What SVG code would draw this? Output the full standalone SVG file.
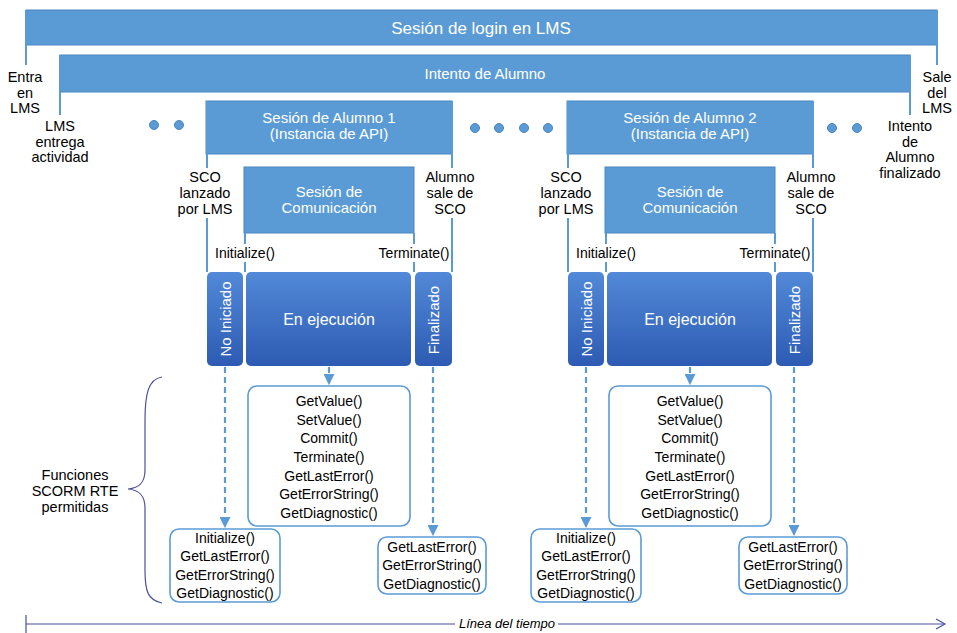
<svg xmlns="http://www.w3.org/2000/svg" width="957" height="633" viewBox="0 0 957 633">
  <style>
    .bar { fill: #5b9bd5; stroke: #4a86c2; stroke-width: 1; }
    .edge { stroke: #5b9bd5; stroke-width: 2; fill: none; }
    .state { fill: url(#stateGrad); }
    .fbox { fill: #ffffff; stroke: #5b9bd5; stroke-width: 1.6; }
    .dash { stroke: #5b9bd5; stroke-width: 2.2; stroke-dasharray: 6 4; fill: none; }
    .dot { fill: #5b9bd5; stroke: #4a86c2; stroke-width: 1; }
    text { font-family: "Liberation Sans", Arial, sans-serif; }
    .w { fill: #ffffff; font-size: 15px; text-anchor: middle; }
    .big { font-size: 16px; }
    .title { fill: #ffffff; font-size: 17px; text-anchor: middle; }
    .lbl { fill: #000000; font-size: 14.5px; text-anchor: middle; }
    .fn { fill: #000000; font-size: 14px; text-anchor: middle; }
    .axis { stroke: #4b4f9c; stroke-width: 1.2; fill: none; }
    .time { fill: #000000; font-size: 13px; font-style: italic; text-anchor: middle; }
  </style>
  <defs>
    <linearGradient id="stateGrad" x1="0" y1="0" x2="0" y2="1">
      <stop offset="0" stop-color="#5289d8"/>
      <stop offset="1" stop-color="#2d5bb3"/>
    </linearGradient>
    <marker id="arr" viewBox="0 0 10 10" refX="9" refY="5" markerWidth="5" markerHeight="5" orient="auto">
      <path d="M0,0 L10,5 L0,10 z" fill="#5b9bd5"/>
    </marker>
  </defs>

  <!-- LMS login session -->
  <g id="login">
    <rect class="bar" x="26" y="10" width="911" height="35"/>
    <line class="edge" x1="26" y1="10" x2="26" y2="65"/>
    <line class="edge" x1="937" y1="10" x2="937" y2="65"/>
    <text class="title" x="481" y="34">Sesión de login en LMS</text>
    <text class="lbl" x="25" y="82">Entra</text>
    <text class="lbl" x="25" y="97.5">en</text>
    <text class="lbl" x="25" y="113">LMS</text>
    <text class="lbl" x="937" y="82">Sale</text>
    <text class="lbl" x="937" y="97.5">del</text>
    <text class="lbl" x="937" y="113">LMS</text>
  </g>

  <!-- Learner attempt -->
  <g id="attempt">
    <rect class="bar" x="60" y="55" width="850" height="37"/>
    <line class="edge" x1="60" y1="55" x2="60" y2="115"/>
    <line class="edge" x1="910" y1="55" x2="910" y2="115"/>
    <text class="w" x="485" y="79">Intento de Alumno</text>
    <text class="lbl" x="60" y="131">LMS</text>
    <text class="lbl" x="60" y="146.5">entrega</text>
    <text class="lbl" x="60" y="162">actividad</text>
    <text class="lbl" x="910" y="131">Intento</text>
    <text class="lbl" x="910" y="146.5">de</text>
    <text class="lbl" x="910" y="162">Alumno</text>
    <text class="lbl" x="910" y="177.5">finalizado</text>
  </g>

  <!-- Continuation dots -->
  <g id="dots">
    <circle class="dot" cx="154" cy="125" r="4.5"/>
    <circle class="dot" cx="179" cy="125" r="4.5"/>
    <circle class="dot" cx="475" cy="128" r="4.5"/>
    <circle class="dot" cx="499" cy="128" r="4.5"/>
    <circle class="dot" cx="524" cy="128" r="4.5"/>
    <circle class="dot" cx="548" cy="128" r="4.5"/>
    <circle class="dot" cx="832" cy="128" r="4.5"/>
    <circle class="dot" cx="857" cy="128" r="4.5"/>
  </g>

  <!-- Learner session 1 -->
  <g id="session1">
    <rect class="bar" x="206" y="101" width="246" height="53"/>
    <text class="w" x="329" y="123">Sesión de Alumno 1</text>
    <text class="w" x="329" y="139">(Instancia de API)</text>
    <line class="edge" x1="207" y1="101" x2="207" y2="168"/>
    <line class="edge" x1="207" y1="218" x2="207" y2="272"/>
    <line class="edge" x1="452" y1="101" x2="452" y2="168"/>
    <line class="edge" x1="452" y1="218" x2="452" y2="272"/>
    <text class="lbl" x="205" y="182">SCO</text>
    <text class="lbl" x="205" y="198">lanzado</text>
    <text class="lbl" x="205" y="214">por LMS</text>
    <text class="lbl" x="450" y="182">Alumno</text>
    <text class="lbl" x="450" y="198">sale de</text>
    <text class="lbl" x="450" y="214">SCO</text>
  </g>
  <g id="comm1">
    <rect class="bar" x="244" y="167" width="170" height="66"/>
    <text class="w" x="329" y="197">Sesión de</text>
    <text class="w" x="329" y="213">Comunicación</text>
    <line class="edge" x1="245" y1="233" x2="245" y2="244"/>
    <line class="edge" x1="245" y1="262" x2="245" y2="272"/>
    <line class="edge" x1="414" y1="233" x2="414" y2="244"/>
    <line class="edge" x1="414" y1="262" x2="414" y2="272"/>
    <text class="fn" x="245" y="258">Initialize()</text>
    <text class="fn" x="414" y="258">Terminate()</text>
  </g>
  <g id="notStarted1">
    <rect class="state" x="207" y="272" width="36" height="94" rx="5"/>
    <text class="w" transform="translate(231,319) rotate(-90)">No Iniciado</text>
  </g>
  <g id="running1">
    <rect class="state" x="246" y="272" width="165" height="94" rx="5"/>
    <text class="w big" x="329" y="325">En ejecución</text>
  </g>
  <g id="finished1">
    <rect class="state" x="415" y="272" width="37" height="94" rx="5"/>
    <text class="w" transform="translate(439,320) rotate(-90)">Finalizado</text>
  </g>
  <g id="fnRunning1">
    <rect class="fbox" x="248" y="386" width="162" height="140" rx="9"/>
    <text class="fn" x="329" y="406">GetValue()</text>
    <text class="fn" x="329" y="425">SetValue()</text>
    <text class="fn" x="329" y="443">Commit()</text>
    <text class="fn" x="329" y="462">Terminate()</text>
    <text class="fn" x="329" y="481">GetLastError()</text>
    <text class="fn" x="329" y="499">GetErrorString()</text>
    <text class="fn" x="329" y="518">GetDiagnostic()</text>
  </g>
  <g id="fnNotStarted1">
    <rect class="fbox" x="170" y="529" width="110" height="73" rx="9"/>
    <text class="fn" x="225" y="543">Initialize()</text>
    <text class="fn" x="225" y="561">GetLastError()</text>
    <text class="fn" x="225" y="580">GetErrorString()</text>
    <text class="fn" x="225" y="598">GetDiagnostic()</text>
  </g>
  <g id="fnFinished1">
    <rect class="fbox" x="378" y="537" width="108" height="57" rx="9"/>
    <text class="fn" x="432" y="552">GetLastError()</text>
    <text class="fn" x="432" y="570">GetErrorString()</text>
    <text class="fn" x="432" y="589">GetDiagnostic()</text>
  </g>

  <!-- Learner session 2 -->
  <g id="session2">
    <rect class="bar" x="567" y="101" width="246" height="53"/>
    <text class="w" x="690" y="123">Sesión de Alumno 2</text>
    <text class="w" x="690" y="139">(Instancia de API)</text>
    <line class="edge" x1="568" y1="101" x2="568" y2="168"/>
    <line class="edge" x1="568" y1="218" x2="568" y2="272"/>
    <line class="edge" x1="813" y1="101" x2="813" y2="168"/>
    <line class="edge" x1="813" y1="218" x2="813" y2="272"/>
    <text class="lbl" x="566" y="182">SCO</text>
    <text class="lbl" x="566" y="198">lanzado</text>
    <text class="lbl" x="566" y="214">por LMS</text>
    <text class="lbl" x="811" y="182">Alumno</text>
    <text class="lbl" x="811" y="198">sale de</text>
    <text class="lbl" x="811" y="214">SCO</text>
  </g>
  <g id="comm2">
    <rect class="bar" x="605" y="167" width="170" height="66"/>
    <text class="w" x="690" y="197">Sesión de</text>
    <text class="w" x="690" y="213">Comunicación</text>
    <line class="edge" x1="606" y1="233" x2="606" y2="244"/>
    <line class="edge" x1="606" y1="262" x2="606" y2="272"/>
    <line class="edge" x1="775" y1="233" x2="775" y2="244"/>
    <line class="edge" x1="775" y1="262" x2="775" y2="272"/>
    <text class="fn" x="606" y="258">Initialize()</text>
    <text class="fn" x="775" y="258">Terminate()</text>
  </g>
  <g id="notStarted2">
    <rect class="state" x="568" y="272" width="36" height="94" rx="5"/>
    <text class="w" transform="translate(592,319) rotate(-90)">No Iniciado</text>
  </g>
  <g id="running2">
    <rect class="state" x="607" y="272" width="165" height="94" rx="5"/>
    <text class="w big" x="690" y="325">En ejecución</text>
  </g>
  <g id="finished2">
    <rect class="state" x="776" y="272" width="37" height="94" rx="5"/>
    <text class="w" transform="translate(800,320) rotate(-90)">Finalizado</text>
  </g>
  <g id="fnRunning2">
    <rect class="fbox" x="609" y="386" width="162" height="140" rx="9"/>
    <text class="fn" x="690" y="406">GetValue()</text>
    <text class="fn" x="690" y="425">SetValue()</text>
    <text class="fn" x="690" y="443">Commit()</text>
    <text class="fn" x="690" y="462">Terminate()</text>
    <text class="fn" x="690" y="481">GetLastError()</text>
    <text class="fn" x="690" y="499">GetErrorString()</text>
    <text class="fn" x="690" y="518">GetDiagnostic()</text>
  </g>
  <g id="fnNotStarted2">
    <rect class="fbox" x="531" y="529" width="110" height="73" rx="9"/>
    <text class="fn" x="586" y="543">Initialize()</text>
    <text class="fn" x="586" y="561">GetLastError()</text>
    <text class="fn" x="586" y="580">GetErrorString()</text>
    <text class="fn" x="586" y="598">GetDiagnostic()</text>
  </g>
  <g id="fnFinished2">
    <rect class="fbox" x="739" y="537" width="108" height="57" rx="9"/>
    <text class="fn" x="793" y="552">GetLastError()</text>
    <text class="fn" x="793" y="570">GetErrorString()</text>
    <text class="fn" x="793" y="589">GetDiagnostic()</text>
  </g>

  <!-- State to allowed-function connectors -->
  <g id="connectors">
    <line class="dash" x1="225" y1="367" x2="225" y2="527" marker-end="url(#arr)"/>
    <line class="dash" x1="329" y1="367" x2="329" y2="384" marker-end="url(#arr)"/>
    <line class="dash" x1="433" y1="367" x2="433" y2="535" marker-end="url(#arr)"/>
    <line class="dash" x1="586" y1="367" x2="586" y2="527" marker-end="url(#arr)"/>
    <line class="dash" x1="690" y1="367" x2="690" y2="384" marker-end="url(#arr)"/>
    <line class="dash" x1="794" y1="367" x2="794" y2="535" marker-end="url(#arr)"/>
  </g>

  <!-- Brace for allowed functions -->
  <g id="allowed">
    <path class="axis" d="M162,377 C148,379 145,395 145,420 L145,470 C145,482 140,488 128,489 C140,490 145,496 145,508 L145,570 C145,592 148,600 162,603"/>
    <text class="lbl" x="75" y="480">Funciones</text>
    <text class="lbl" x="75" y="496">SCORM RTE</text>
    <text class="lbl" x="75" y="512">permitidas</text>
  </g>

  <!-- Time axis -->
  <g id="timeline">
    <line class="axis" x1="26" y1="615" x2="26" y2="633"/>
    <line class="axis" x1="26" y1="624" x2="455" y2="624"/>
    <line class="axis" x1="558" y1="624" x2="944" y2="624"/>
    <path class="axis" d="M936,619 L945,624 L936,629"/>
    <text class="time" x="507" y="628">Línea del tiempo</text>
  </g>
</svg>
